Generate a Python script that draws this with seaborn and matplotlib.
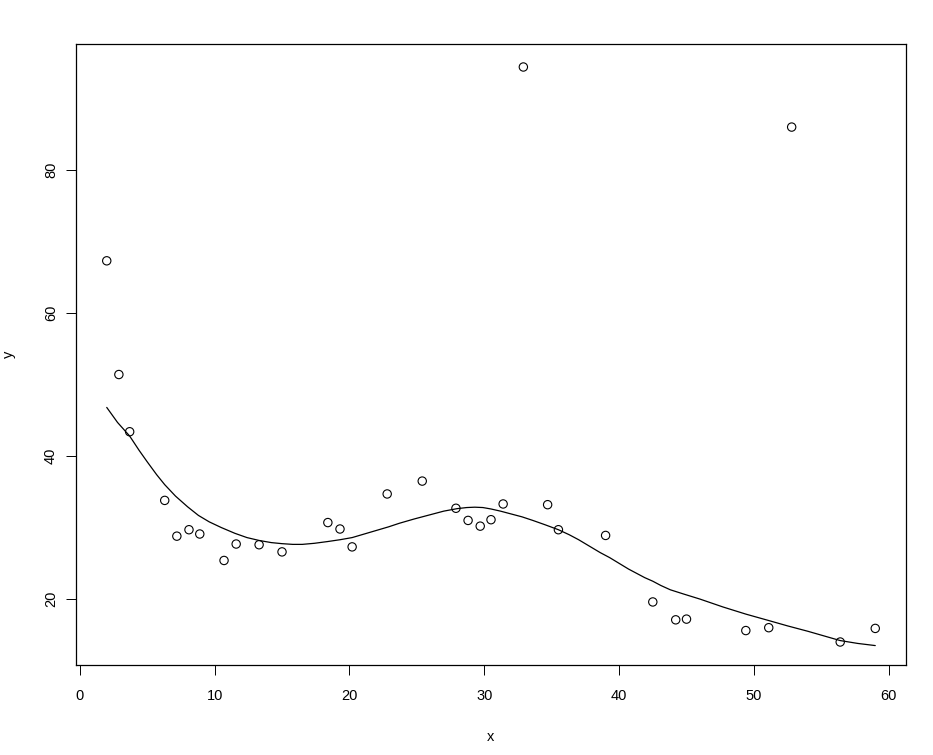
import numpy as np
import pandas as pd
import matplotlib
matplotlib.use('Agg')
import matplotlib.pyplot as plt
import seaborn as sns

x_obs = [2.0, 2.9, 3.7, 6.3, 7.2, 8.1, 8.9, 10.7, 11.6, 13.3, 15.0, 18.4, 19.3,
         20.2, 22.8, 25.4, 27.9, 28.8, 29.7, 30.5, 31.4, 32.9, 34.7, 35.5,
         39.0, 42.5, 44.2, 45.0, 49.4, 51.1, 52.8, 56.4, 59.0]
y_obs = [67.3, 51.4, 43.4, 33.8, 28.8, 29.7, 29.1, 25.4, 27.7, 27.6, 26.6, 30.7, 29.8,
         27.3, 34.7, 36.5, 32.7, 31.0, 30.2, 31.1, 33.3, 94.4, 33.2, 29.7,
         28.9, 19.6, 17.1, 17.2, 15.6, 16.0, 86.0, 14.0, 15.9]

# smoothed fit curve
x_fit = [2.0, 2.8, 3.7, 4.4, 5.0, 5.7, 6.3, 7.1, 8.0, 8.8, 9.6, 10.5, 11.5, 12.4,
         13.3, 14.2, 15.0, 15.8, 16.5, 17.4, 18.4, 19.3, 20.2, 21.1, 22.0, 22.9,
         23.7, 24.8, 26.0, 27.0, 28.0, 28.7, 29.3, 29.9, 30.5, 31.2, 32.0, 32.8,
         33.6, 34.5, 35.5, 36.3, 37.0, 37.8, 38.6, 39.3, 40.0, 40.7, 41.3, 41.9,
         42.5, 43.1, 43.8, 44.8, 46.0, 47.7, 49.4, 51.1, 52.5, 54.0, 55.2, 56.4,
         57.7, 59.0]
y_fit = [46.8, 44.7, 42.8, 40.8, 39.2, 37.4, 36.0, 34.4, 32.9, 31.7, 30.8, 30.0, 29.2, 28.6,
         28.2, 27.9, 27.75, 27.65, 27.65, 27.8, 28.05, 28.3, 28.6, 29.1, 29.6, 30.1,
         30.6, 31.2, 31.8, 32.3, 32.65, 32.8, 32.85, 32.8, 32.6, 32.3, 31.9, 31.5,
         31.0, 30.4, 29.7, 29.0, 28.3, 27.4, 26.5, 25.8, 25.0, 24.2, 23.6, 23.0,
         22.5, 21.9, 21.3, 20.7, 20.0, 18.9, 17.9, 17.0, 16.25, 15.5, 14.85, 14.2,
         13.8, 13.5]

pts = pd.DataFrame({'x': x_obs, 'y': y_obs})
fit = pd.DataFrame({'x': x_fit, 'y': y_fit})

sns.set_style('white')
plt.rcParams['font.family'] = ['Liberation Sans', 'DejaVu Sans']

fig = plt.figure(figsize=(9.33, 7.55), dpi=100)
ax = fig.add_axes([76 / 933, 90 / 755, 830 / 933, 621 / 755])

sns.scatterplot(x='x', y='y', data=pts, ax=ax, s=36, marker='o',
                facecolors='none', edgecolor='black', linewidth=0.8)
sns.lineplot(x='x', y='y', data=fit, ax=ax, color='black', linewidth=0.9,
             sort=True, estimator=None)

# R-style 4% padding around the data range
xr = max(x_obs) - min(x_obs)
yr = max(y_obs) - min(y_obs)
ax.set_xlim(min(x_obs) - 0.04 * xr, max(x_obs) + 0.04 * xr)
ax.set_ylim(min(y_obs) - 0.04 * yr, max(y_obs) + 0.04 * yr)

ax.set_xticks([0, 10, 20, 30, 40, 50, 60])
ax.set_yticks([20, 40, 60, 80])
for s in ax.spines.values():
    s.set_visible(True)
    s.set_color('black')
    s.set_linewidth(0.9)
ax.tick_params(axis='both', direction='out', length=7, width=0.7, color='black',
               labelsize=10.5, labelcolor='black', bottom=True, left=True)
ax.tick_params(axis='x', pad=10)
ax.tick_params(axis='y', pad=6)
for lab in ax.get_yticklabels():
    lab.set_rotation(90)
    lab.set_va('center')

ax.set_xlabel('x', fontsize=10.5, labelpad=20, color='black')
ax.set_ylabel('y', fontsize=10.5, labelpad=20, color='black')

fig.savefig('out.png', dpi=100)
